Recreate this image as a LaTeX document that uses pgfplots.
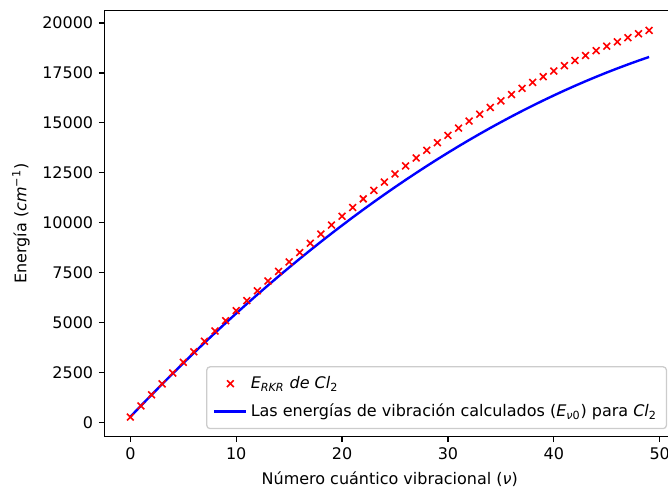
\documentclass[border=0pt]{standalone}
\usepackage{fontspec}
\setmainfont{DejaVu Sans}
\usepackage{pgfplots}
\usepackage{pgfplotstable}
\pgfplotsset{compat=1.18}

\pgfplotsset{
    legmark/.style={legend image code/.code={
        \path[draw=none] (0pt,0pt) -- (20pt,0pt);
        \draw[##1] plot coordinates {(10pt,0pt)};}},
    legline/.style={legend image code/.code={
        \draw[##1, line width=1.5pt] (0pt,0pt) -- (20pt,0pt);}},
}

% E_RKR (puntos) y E_v0 calculada (linea), en cm^-1
\pgfplotstableread{
v E
0 265
1 825
2 1379
3 1927
4 2469
5 3005
6 3535
7 4059
8 4577
9 5089
10 5595
11 6095
12 6589
13 7077
14 7559
15 8035
16 8505
17 8969
18 9427
19 9878
20 10323
21 10761
22 11192
23 11616
24 12033
25 12442
26 12844
27 13239
28 13625
29 14004
30 14374
31 14736
32 15090
33 15434
34 15771
35 16098
36 16416
37 16725
38 17024
39 17314
40 17594
41 17864
42 18124
43 18373
44 18613
45 18841
46 19059
47 19266
48 19462
49 19630
}\rkrdata

\pgfplotstableread{
v E
0 279
1 831
2 1376
3 1913
4 2442
5 2964
6 3478
7 3984
8 4482
9 4973
10 5456
11 5932
12 6399
13 6859
14 7312
15 7756
16 8193
17 8622
18 9044
19 9458
20 9864
21 10263
22 10654
23 11037
24 11412
25 11780
26 12140
27 12492
28 12837
29 13174
30 13503
31 13825
32 14139
33 14445
34 14744
35 15034
36 15318
37 15593
38 15861
39 16121
40 16373
41 16618
42 16855
43 17084
44 17306
45 17520
46 17726
47 17925
48 18116
49 18299
}\calcdata

\begin{document}
\begin{tikzpicture}
\begin{axis}[
    at={(0,0)}, anchor=south west,
    scale only axis,
    width=356.9pt, height=266.25pt,
    xmin=-2.45, xmax=51.45,
    ymin=-704, ymax=20616,
    xtick={0,10,...,50},
    ytick={0,2500,...,20000},
    xtick pos=bottom, ytick pos=left,
    scaled y ticks=false,
    /pgf/number format/.cd, fixed, 1000 sep={}, assume math mode=true,
    /pgfplots/.cd,
    tick align=outside,
    major tick length=3.5pt,
    every tick/.style={black, line width=0.8pt},
    axis line style={line width=0.8pt},
    tick label style={font=\fontsize{10}{12}\selectfont},
    xlabel={Número cuántico vibracional (\textit{ν})},
    ylabel={Energía (\textit{cm}\textsuperscript{−1})},
    label style={font=\fontsize{10}{12}\selectfont},
    xlabel style={at={(rel axis cs:0.5,0)}, anchor=center, yshift=-26.9pt},
    ylabel style={at={(rel axis cs:0,0.5)}, anchor=center, yshift=52.2pt},
    legend style={
        at={(rel axis cs:1,0)}, anchor=south east, xshift=-5pt, yshift=4.5pt,
        draw=black!20, line width=0.8pt, rounded corners=2pt,
        fill=white, fill opacity=0.8, text opacity=1,
        font=\fontsize{10}{12}\selectfont,
        inner sep=4pt, row sep=4pt,
    },
    legend cell align=left,
]

\addplot[only marks, color=red, mark=x, mark size=3pt,
    mark options={line width=1pt}, legmark] table[x=v, y=E] {\rkrdata};
\addlegendentry{\textit{E}\textsubscript{\textit{RKR}} \textit{de Cl}\textsubscript{2}}

\addplot[color=blue, line width=1.5pt, legline] table[x=v, y=E] {\calcdata};
\addlegendentry{Las energías de vibración calculados (\textit{E}\textsubscript{\textit{ν}0}) para \textit{Cl}\textsubscript{2}}

\end{axis}
\pgfresetboundingbox
\path[use as bounding box] (-65.3pt,-31.9pt) rectangle (352.5pt,272.95pt);
\end{tikzpicture}
\end{document}
